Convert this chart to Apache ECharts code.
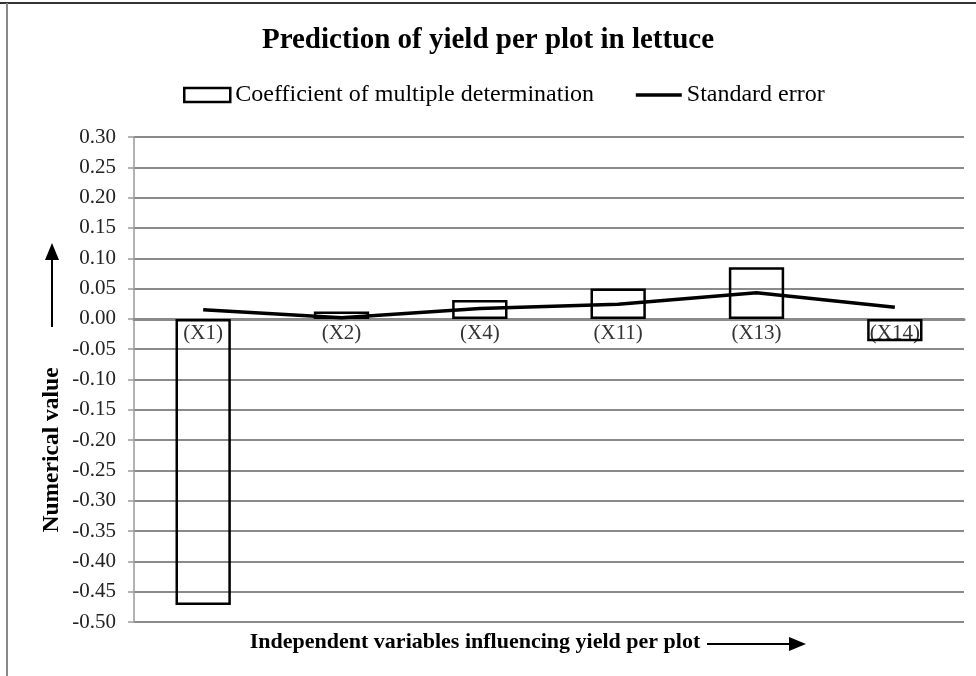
<!DOCTYPE html>
<html>
<head>
<meta charset="utf-8">
<script src="https://cdn.jsdelivr.net/npm/echarts@6/dist/echarts.min.js"></script>
<style>html,body{margin:0;padding:0;background:#fff}#c{width:976px;height:676px}</style>
</head>
<body>
<div id="c"></div>
<script>
const categories = ['(X1)', '(X2)', '(X4)', '(X11)', '(X13)', '(X14)'];
const coefValues = [-0.472, 0.012, 0.031, 0.050, 0.085, -0.037];
const stdErrValues = [0.015, 0.002, 0.017, 0.024, 0.043, 0.019];
const seriesNames = ['Coefficient of multiple determination', 'Standard error'];
const titleText = 'Prediction of yield per plot in lettuce';
const yName = 'Numerical value';
const xName = 'Independent variables influencing yield per plot';
const yMin = -0.5, yMax = 0.3, yStep = 0.05;

const FONT = '"Liberation Serif", "Times New Roman", serif';
const chart = echarts.init(document.getElementById('c'));
chart.setOption({
  backgroundColor: '#fff',
  animation: false,
  title: {
    text: titleText, left: 'center', top: 21,
    textStyle: { fontFamily: FONT, fontSize: 29, fontWeight: 'bold', color: '#000' }
  },
  legend: {
    top: 83, left: 183, itemGap: 40, itemWidth: 46, itemHeight: 14, padding: 0,
    textStyle: { fontFamily: FONT, fontSize: 24, color: '#000' },
    data: [
      { name: seriesNames[0], icon: 'rect', itemStyle: { color: '#fff', borderColor: '#000', borderWidth: 2.5 } },
      { name: seriesNames[1], itemStyle: { opacity: 0 }, lineStyle: { color: '#000', width: 3.5 } }
    ]
  },
  grid: { left: 134, right: 12, top: 137, bottom: 54, containLabel: false },
  xAxis: {
    type: 'category', data: categories, position: 'bottom', offset: 0,
    axisLine: { onZero: false, lineStyle: { color: '#8a8a8a', width: 3 } },
    axisTick: { show: false },
    axisLabel: { fontFamily: FONT, fontSize: 21, color: '#333', margin: 4 }
  },
  yAxis: {
    type: 'value', min: yMin, max: yMax, interval: yStep,
    axisLine: { show: true, lineStyle: { color: '#9a9a9a', width: 1.5 } },
    axisTick: { show: true, length: 6, lineStyle: { color: '#9a9a9a', width: 1.5 } },
    splitLine: { lineStyle: { color: '#8a8a8a', width: 2 } },
    axisLabel: { fontFamily: FONT, fontSize: 21, color: '#222', margin: 18,
      formatter: v => v.toFixed(2) }
  },
  series: [
    { name: seriesNames[0], type: 'bar', data: coefValues, barWidth: '40%',
      itemStyle: { color: 'rgba(255,255,255,0)', borderColor: '#000', borderWidth: 2.5 }, z: 3 },
    { name: seriesNames[1], type: 'line', data: stdErrValues, symbol: 'none', showSymbol: false,
      lineStyle: { color: '#000', width: 3.5 }, itemStyle: { color: '#000' }, z: 4 }
  ],
  graphic: [
    { type: 'line', shape: { x1: 0, y1: 3, x2: 976, y2: 3 }, style: { stroke: '#333', lineWidth: 2 } },
    { type: 'line', shape: { x1: 7, y1: 3, x2: 7, y2: 676 }, style: { stroke: '#888', lineWidth: 2 } },
    { type: 'text', x: 52, y: 450, rotation: Math.PI / 2, style: { text: yName, fontFamily: FONT, fontSize: 23.5, fontWeight: 'bold', fill: '#000', align: 'center', verticalAlign: 'middle' } },
    { type: 'line', shape: { x1: 52, y1: 327, x2: 52, y2: 258 }, style: { stroke: '#000', lineWidth: 2 } },
    { type: 'polygon', shape: { points: [[52, 243], [45, 260], [59, 260]] }, style: { fill: '#000' } },
    { type: 'text', x: 475, y: 642, style: { text: xName, fontFamily: FONT, fontSize: 22, fontWeight: 'bold', fill: '#000', align: 'center', verticalAlign: 'middle' } },
    { type: 'line', shape: { x1: 707, y1: 644, x2: 790, y2: 644 }, style: { stroke: '#000', lineWidth: 2 } },
    { type: 'polygon', shape: { points: [[806, 644], [789, 637], [789, 651]] }, style: { fill: '#000' } }
  ]
});
// place the category axis on the zero line using the library's own value scale
const zeroPx = chart.convertToPixel({ yAxisIndex: 0 }, 0);
const minPx = chart.convertToPixel({ yAxisIndex: 0 }, yMin);
chart.setOption({ xAxis: { offset: zeroPx - minPx } });
</script>
</body>
</html>
